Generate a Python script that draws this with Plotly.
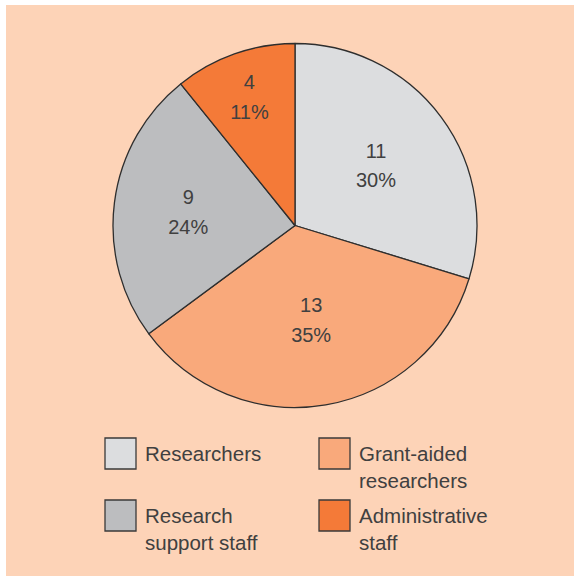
import plotly.graph_objects as go

# Staff composition
categories = ["Researchers", "Grant-aided researchers", "Research support staff", "Administrative staff"]
legend_labels = ["Researchers", "Grant-aided<br>researchers", "Research<br>support staff", "Administrative<br>staff"]
counts = [11, 13, 9, 4]
colors = ["#DCDDDF", "#F9A97B", "#BCBDBF", "#F47A38"]

W, H = 574, 576
TEXT = "#404040"
FONT = "Liberation Sans, Arial, sans-serif"


def px_x(x):
    return x / W


def px_y(y):
    return 1 - y / H


# Slice labels: the trace font size sets the line pitch, spans set glyph size
label_span = "<span style='font-size:20px'>{}</span>"
fig = go.Figure(
    go.Pie(
        labels=categories,
        values=counts,
        sort=False,
        direction="clockwise",
        rotation=0,
        marker=dict(colors=colors, line=dict(color="#2e2e2e", width=1.3)),
        texttemplate=label_span.format("%{value}") + "<br>" + label_span.format("%{percent:.0%}"),
        textposition="inside",
        insidetextorientation="horizontal",
        textfont=dict(family=FONT, size=23, color=TEXT),
        hoverinfo="label+value+percent",
        showlegend=False,
        domain=dict(x=[px_x(113), px_x(477)], y=[px_y(408), px_y(43)]),
    )
)

shapes = [
    dict(type="rect", xref="paper", yref="paper", layer="below",
         x0=px_x(6), x1=1, y0=0, y1=px_y(5),
         fillcolor="#FDD3B7", line=dict(width=0))
]
annotations = []

# Two-column legend: swatch + label
swatch_left = [105, 319]
swatch_top = [438, 500]
size = 31
line_gap = 26
for i, (lab, col) in enumerate(zip(legend_labels, colors)):
    cx = swatch_left[i % 2]
    cy = swatch_top[i // 2]
    shapes.append(dict(type="rect", xref="paper", yref="paper",
                       x0=px_x(cx), x1=px_x(cx + size),
                       y0=px_y(cy + size), y1=px_y(cy),
                       fillcolor=col, line=dict(color="#3a3a3a", width=1.3)))
    n_lines = lab.count("<br>") + 1
    mid = cy + size / 2 + (n_lines - 1) * line_gap / 2
    annotations.append(dict(xref="paper", yref="paper",
                            x=px_x(cx + size + 7), y=px_y(mid),
                            xanchor="left", yanchor="middle", align="left",
                            text=lab, showarrow=False,
                            font=dict(family=FONT, size=20.5, color=TEXT)))

fig.update_layout(
    width=W, height=H,
    margin=dict(l=0, r=0, t=0, b=0),
    paper_bgcolor="white",
    shapes=shapes,
    annotations=annotations,
)

fig.write_html("out.html")
